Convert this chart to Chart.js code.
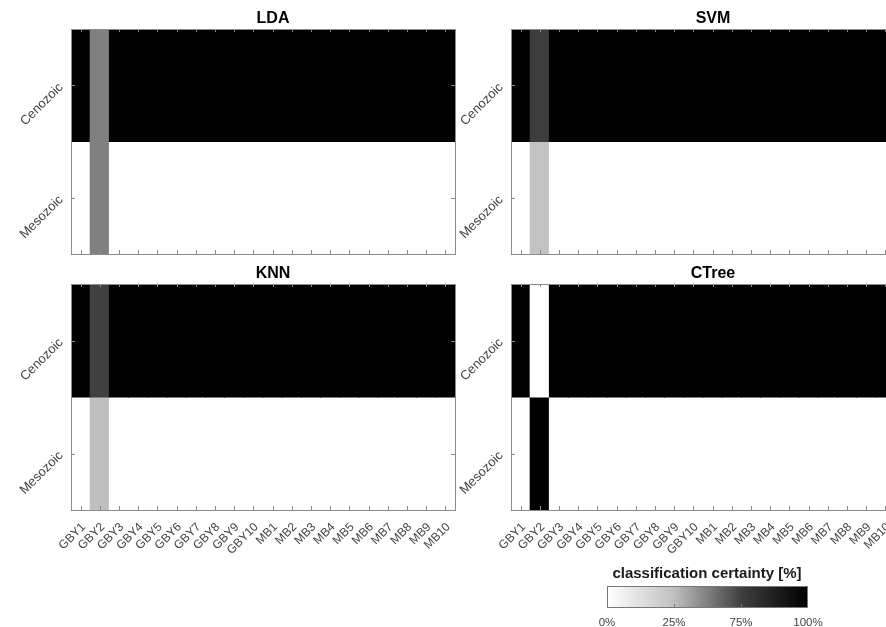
<!DOCTYPE html>
<html>
<head>
<meta charset="utf-8">
<title>Classification certainty</title>
<script src="https://cdn.jsdelivr.net/npm/chart.js@4.4.0/dist/chart.umd.min.js"></script>
<style>
  html, body { margin: 0; padding: 0; background: #fff; }
  body { width: 886px; height: 627px; overflow: hidden; position: relative;
         font-family: "Liberation Sans", Arial, Helvetica, sans-serif; }
  canvas { position: absolute; }
  #cbTitle { position: absolute; left: 557px; width: 300px; top: 564px; text-align: center;
             font-weight: bold; font-size: 15px; color: #1a1a1a; line-height: 18px; }
  #cb { position: absolute; left: 607px; top: 586px; width: 201px; height: 22px; box-sizing: border-box;
        border: 1px solid #777; }
  .cbTick { position: absolute; width: 1px; height: 3px; background: #777; }
  .cbLabel { position: absolute; top: 615px; width: 60px; margin-left: -30px; text-align: center;
             font-size: 11.5px; color: #444; line-height: 14px; }
</style>
</head>
<body>
<canvas id="lda" width="465" height="258" style="left:0px;top:0px"></canvas>
<canvas id="svm" width="465" height="258" style="left:440px;top:0px"></canvas>
<canvas id="knn" width="465" height="320" style="left:0px;top:260px"></canvas>
<canvas id="ctree" width="465" height="320" style="left:440px;top:260px"></canvas>
<div id="cbTitle">classification certainty [%]</div>
<div id="cb"></div>
<script>
// Samples (columns) and geological eras (rows)
const samples = ['GBY1', 'GBY2', 'GBY3', 'GBY4', 'GBY5', 'GBY6', 'GBY7', 'GBY8', 'GBY9', 'GBY10',
                 'MB1', 'MB2', 'MB3', 'MB4', 'MB5', 'MB6', 'MB7', 'MB8', 'MB9', 'MB10'];
const periods = ['Cenozoic', 'Mesozoic'];

// Classification certainty [%] per sample, one array per classifier and era
const ldaCenozoic   = [100, 50, 100, 100, 100, 100, 100, 100, 100, 100, 100, 100, 100, 100, 100, 100, 100, 100, 100, 100];
const ldaMesozoic   = [0, 50, 0, 0, 0, 0, 0, 0, 0, 0, 0, 0, 0, 0, 0, 0, 0, 0, 0, 0];
const svmCenozoic   = [100, 76, 100, 100, 100, 100, 100, 100, 100, 100, 100, 100, 100, 100, 100, 100, 100, 100, 100, 100];
const svmMesozoic   = [0, 24, 0, 0, 0, 0, 0, 0, 0, 0, 0, 0, 0, 0, 0, 0, 0, 0, 0, 0];
const knnCenozoic   = [100, 75, 100, 100, 100, 100, 100, 100, 100, 100, 100, 100, 100, 100, 100, 100, 100, 100, 100, 100];
const knnMesozoic   = [0, 25, 0, 0, 0, 0, 0, 0, 0, 0, 0, 0, 0, 0, 0, 0, 0, 0, 0, 0];
const ctreeCenozoic = [100, 0, 100, 100, 100, 100, 100, 100, 100, 100, 100, 100, 100, 100, 100, 100, 100, 100, 100, 100];
const ctreeMesozoic = [0, 100, 0, 0, 0, 0, 0, 0, 0, 0, 0, 0, 0, 0, 0, 0, 0, 0, 0, 0];

// Colour bar tick labels and the certainty each one stands for
const certaintyTicks = ['0%', '25%', '75%', '100%'];
const certaintyTickValues = [0, 25, 75, 100];

const FONT = '"Liberation Sans", Arial, Helvetica, sans-serif';
const AXIS_GREY = '#8c8c8c';

// 0% -> white, 100% -> black
function shade(v) {
  const g = Math.round(255 * (1 - v / 100));
  return `rgb(${g},${g},${g})`;
}

// Box around the plot area, inward tick marks and the panel title
const framePlugin = {
  id: 'frame',
  afterDatasetsDraw(chart, args, opts) {
    const { ctx, chartArea: a, scales: { x, y } } = chart;
    ctx.save();
    ctx.strokeStyle = AXIS_GREY;
    ctx.lineWidth = 1;
    ctx.beginPath();
    samples.forEach((_, i) => {
      const px = Math.round(x.getPixelForValue(i)) + 0.5;
      ctx.moveTo(px, a.bottom); ctx.lineTo(px, a.bottom - 4);
      ctx.moveTo(px, a.top); ctx.lineTo(px, a.top + 3);
    });
    y.ticks.forEach(t => {
      const py = Math.round(y.getPixelForValue(t.value)) + 0.5;
      ctx.moveTo(a.left, py); ctx.lineTo(a.left + 4, py);
      ctx.moveTo(a.right, py); ctx.lineTo(a.right - 4, py);
    });
    ctx.stroke();
    ctx.strokeRect(Math.round(a.left) + 0.5, Math.round(a.top) + 0.5,
                   Math.round(a.right - a.left), Math.round(a.bottom - a.top));
    ctx.fillStyle = '#000';
    ctx.font = 'bold 16px ' + FONT;
    ctx.textAlign = 'center';
    ctx.textBaseline = 'middle';
    ctx.fillText(opts.text, (a.left + a.right) / 2 + 10, a.top - 10);
    ctx.restore();
  }
};

// geom: chart-area edges relative to the canvas
function makePanel(id, title, cenozoic, mesozoic, showX, geom) {
  const canvas = document.getElementById(id);
  const rows = [cenozoic, mesozoic];
  const n = periods.length;
  const datasets = periods.map((p, r) => ({
    label: p,
    data: samples.map(() => [n - 1 - r, n - r]),
    backgroundColor: rows[r].map(shade),
    borderWidth: 0,
    inflateAmount: 0.5,
    grouped: false,
    barPercentage: 1,
    categoryPercentage: 1
  }));
  return new Chart(canvas, {
    type: 'bar',
    data: { labels: samples, datasets },
    plugins: [framePlugin],
    options: {
      responsive: false,
      animation: false,
      events: [],
      layout: { padding: { left: 0, top: geom.top, right: canvas.width - geom.right, bottom: 0 } },
      plugins: {
        legend: { display: false },
        tooltip: { enabled: false },
        title: { display: false },
        frame: { text: title }
      },
      scales: {
        x: {
          type: 'category',
          offset: true,
          grid: { display: false, drawTicks: false },
          border: { display: false },
          ticks: {
            display: showX, autoSkip: false, minRotation: 45, maxRotation: 45,
            padding: 10, labelOffset: 3,
            color: '#444', font: { family: FONT, size: 12 }
          },
          afterFit(s) { s.height = canvas.height - geom.bottom; s.paddingLeft = 0; s.paddingRight = 0; }
        },
        y: {
          type: 'linear',
          min: 0, max: n,
          grid: { display: false, drawTicks: false },
          border: { display: false },
          afterBuildTicks(s) { s.ticks = periods.map((_, r) => ({ value: n - 1 - r + 0.5 })); },
          ticks: {
            minRotation: 45, maxRotation: 45, padding: 10,
            color: '#444', font: { family: FONT, size: 13 },
            callback: v => periods[n - 1 - Math.floor(v)]
          },
          afterFit(s) { s.width = geom.left; s.paddingTop = 0; s.paddingBottom = 0; }
        }
      }
    }
  });
}

makePanel('lda',   'LDA',   ldaCenozoic,   ldaMesozoic,   false, { left: 71, top: 29, right: 455, bottom: 254 });
makePanel('svm',   'SVM',   svmCenozoic,   svmMesozoic,   false, { left: 71, top: 29, right: 455, bottom: 254 });
makePanel('knn',   'KNN',   knnCenozoic,   knnMesozoic,   true,  { left: 71, top: 24, right: 455, bottom: 250 });
makePanel('ctree', 'CTree', ctreeCenozoic, ctreeMesozoic, true,  { left: 71, top: 24, right: 455, bottom: 250 });

// Colour bar: gradient stops follow the same shading as the cells
const cb = document.getElementById('cb');
const cbLeft = 607, cbWidth = 201;
const stops = certaintyTickValues.map((v, i) =>
  `${shade(v)} ${(100 * i / (certaintyTickValues.length - 1)).toFixed(2)}%`);
cb.style.background = `linear-gradient(to right, ${stops.join(', ')})`;
certaintyTicks.forEach((t, i) => {
  const frac = i / (certaintyTicks.length - 1);
  if (i > 0 && i < certaintyTicks.length - 1) {
    const tick = document.createElement('div');
    tick.className = 'cbTick';
    tick.style.left = Math.round(frac * (cbWidth - 2)) + 'px';
    tick.style.bottom = '0px';
    cb.appendChild(tick);
  }
  const lab = document.createElement('div');
  lab.className = 'cbLabel';
  lab.textContent = t;
  lab.style.left = (cbLeft + frac * cbWidth) + 'px';
  document.body.appendChild(lab);
});
</script>
</body>
</html>
